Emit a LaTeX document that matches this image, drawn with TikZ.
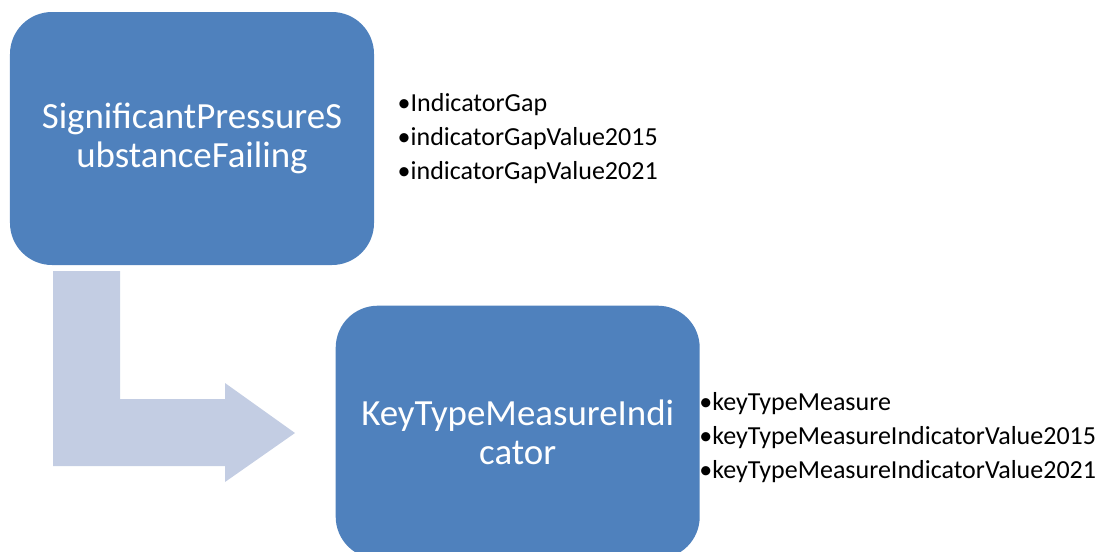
\documentclass[tikz,border=0pt]{standalone}
\usepackage{fontspec}
\setmainfont{Carlito}
\usetikzlibrary{positioning}
\definecolor{boxblue}{RGB}{79,129,189}
\definecolor{arrowblue}{RGB}{195,205,227}

\begin{document}
\begin{tikzpicture}[node distance=1cm,
  box/.style={fill=boxblue, rounded corners=0.84cm, minimum width=7.28cm,
              minimum height=5.06cm, text=white, align=center, inner sep=0pt,
              font=\fontsize{21pt}{22.2pt}\selectfont},
  list/.style={anchor=west, align=left, inner sep=0pt,
              font=\fontsize{14.8pt}{19.3pt}\selectfont}]
  \useasboundingbox (0,0) rectangle (22.02,-11.02);
  \clip (0,0) rectangle (22.02,-11.02);
  % bent arrow
  \fill[arrowblue] (1.06,-5.42) -- (2.40,-5.42) -- (2.40,-7.98) -- (4.50,-7.98)
    -- (4.50,-7.66) -- (5.90,-8.66) -- (4.50,-9.64) -- (4.50,-9.32)
    -- (1.06,-9.32) -- cycle;
  \node (S) [box] at (3.84,-2.77) {SignificantPressureS\\ubstanceFailing};
  \node (K) [box, below right=0.8cm and -0.78cm of S] {KeyTypeMeasureIndi\\cator};
  \node (SL) [list, right=0.46cm of S] {•IndicatorGap\\•indicatorGapValue2015\\•indicatorGapValue2021};
  \node (KL) [list, right=-0.02cm of K, yshift=-0.1cm] {•keyTypeMeasure\\•keyTypeMeasureIndicatorValue2015\\•keyTypeMeasureIndicatorValue2021};
\end{tikzpicture}
\end{document}
